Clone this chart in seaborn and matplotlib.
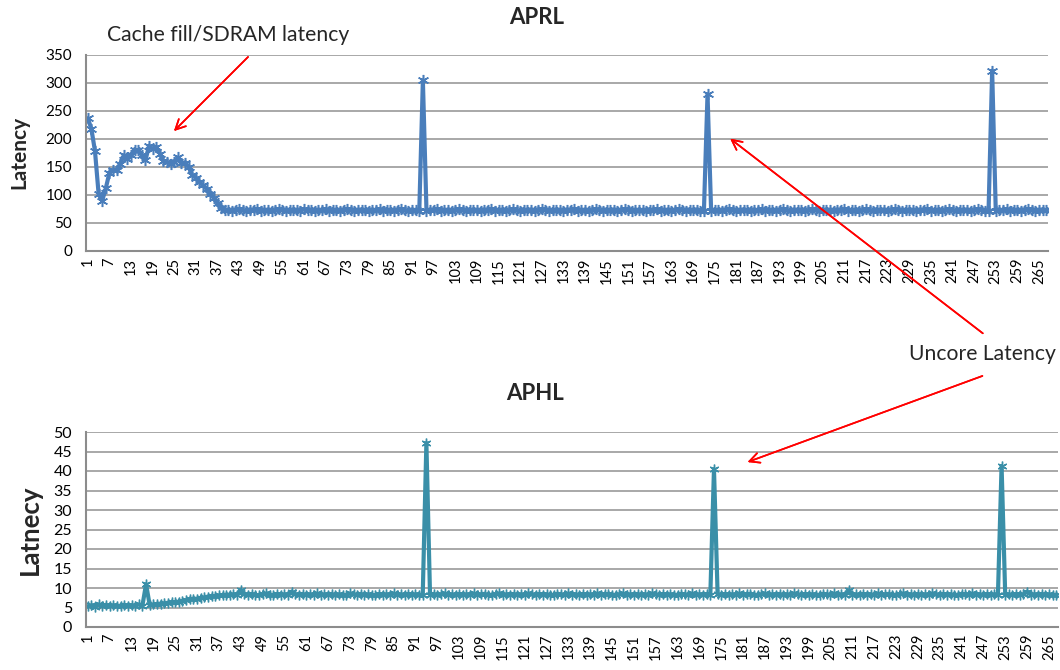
import matplotlib
matplotlib.use("Agg")
import matplotlib.pyplot as plt
import seaborn as sns
import numpy as np

sns.set_theme(style="white")
plt.rcParams["font.family"] = ["Lato", "DejaVu Sans"]

# APRL latency per sample (samples 1..267)
aprl_head = [237, 218, 178, 102, 90, 112, 140, 144, 145, 156, 171, 165, 171,
             180, 180, 171, 162, 188, 182, 186, 174, 160, 159, 156, 159, 167,
             157, 158, 150, 135, 131, 123, 117, 111, 102, 95, 85, 76, 73]
aprl_seg1 = [74, 72, 73, 75, 73, 72, 74, 73, 75, 72, 73, 74, 72, 73, 75, 74,
             72, 73, 74, 73, 72, 75, 73, 74, 72, 73, 74, 75, 72, 73, 74, 72,
             73, 75, 74, 72, 73, 74, 73, 72, 74, 73, 75, 72, 73, 74, 72, 73,
             75, 73, 72, 74, 73, 71]
aprl_spike1 = [305]
aprl_seg2 = [72, 74, 73, 75, 72, 73, 74, 72, 73, 75, 74, 72, 73, 74, 73, 72,
             74, 73, 75, 72, 73, 74, 72, 73, 75, 73, 72, 74, 73, 74, 72, 73,
             75, 74, 72, 73, 74, 73, 72, 74, 73, 75, 72, 73, 74, 72, 73, 75,
             73, 72, 74, 73, 74, 72, 73, 75, 74, 72, 73, 74, 73, 72, 74, 73,
             75, 72, 73, 74, 72, 73, 75, 73, 72, 74, 73, 74, 72, 71]
aprl_spike2 = [280]
aprl_seg3 = [72, 73, 74, 72, 73, 75, 74, 72, 73, 74, 73, 72, 74, 73, 75, 72,
             73, 74, 72, 73, 75, 73, 72, 74, 73, 74, 72, 73, 75, 74, 72, 73,
             74, 73, 72, 74, 73, 75, 72, 73, 74, 72, 73, 75, 73, 72, 74, 73,
             74, 72, 73, 75, 74, 72, 73, 74, 73, 72, 74, 73, 75, 72, 73, 74,
             72, 73, 75, 73, 72, 74, 73, 74, 72, 73, 75, 74, 72, 71]
aprl_spike3 = [322]
aprl_tail = [72, 74, 73, 75, 72, 73, 74, 72, 73, 75, 74, 72, 73, 74, 73]

# APHL latency per sample (samples 1..267)
aphl_head = [5.3, 5.6, 5.2, 5.8, 5.5, 5.7, 5.4, 5.6, 5.3, 5.5, 5.7, 5.4, 5.6,
             5.5, 5.8, 5.5]
aphl_bump1 = [11.0]
aphl_rise = [5.6, 5.8, 5.9, 6.0, 6.1, 6.2, 6.3, 6.4, 6.5, 6.7, 6.9, 7.1, 7.3,
             7.2, 7.5, 7.6, 7.8, 7.9, 8.0, 8.1, 8.2, 8.3, 8.3, 8.4, 8.3]
aphl_bump2 = [9.5]
aphl_seg1 = [8.4, 8.2, 8.5, 8.3, 8.1, 8.4, 8.6, 8.3, 8.2, 8.5, 8.3, 8.4, 8.2,
             9.1, 8.4, 8.3, 8.5, 8.2, 8.4, 8.3, 8.6, 8.2, 8.4, 8.3, 8.5, 8.1,
             8.4, 8.3, 8.2, 8.6, 8.4, 8.3, 8.5, 8.2, 8.4, 8.3, 8.1, 8.5, 8.3,
             8.4, 8.2, 8.6, 8.3, 8.4, 8.2, 8.5, 8.3, 8.4, 8.2, 8.3]
aphl_spike1 = [47.2]
aphl_seg2 = [8.3, 8.5, 8.2, 8.4, 8.6, 8.3, 8.4, 8.2, 8.5, 8.3, 8.4, 8.2, 8.6,
             8.3, 8.4, 8.5, 8.2, 8.3, 8.4, 8.6, 8.2, 8.4, 8.3, 8.5, 8.2, 8.4,
             8.3, 8.6, 8.4, 8.2, 8.5, 8.3, 8.4, 8.2, 8.3, 8.5, 8.4, 8.2, 8.6,
             8.3, 8.4, 8.2, 8.5, 8.3, 8.4, 8.2, 8.6, 8.3, 8.4, 8.5, 8.2, 8.3,
             8.4, 8.6, 8.2, 8.4, 8.3, 8.5, 8.2, 8.4, 8.3, 8.6, 8.4, 8.2, 8.5,
             8.3, 8.4, 8.2, 8.3, 8.5, 8.4, 8.2, 8.6, 8.3, 8.4, 8.2, 8.5, 8.3]
aphl_spike2 = [40.5]
aphl_seg3 = [8.4, 8.2, 8.5, 8.3, 8.4, 8.2, 8.6, 8.3, 8.4, 8.5, 8.2, 8.3, 8.4,
             8.6, 8.2, 8.4, 8.3, 8.5, 8.2, 8.4, 8.3, 8.6, 8.4, 8.2, 8.5, 8.3,
             8.4, 8.2, 8.3, 8.5, 8.4, 8.2, 8.6, 8.3, 8.4, 8.2, 9.4, 8.3, 8.4,
             8.2, 8.5, 8.3, 8.4, 8.2, 8.6, 8.3, 8.4, 8.5, 8.2, 8.3, 8.4, 8.6,
             8.2, 8.4, 8.3, 8.5, 8.2, 8.4, 8.3, 8.6, 8.4, 8.2, 8.5, 8.3, 8.4,
             8.2, 8.3, 8.5, 8.4, 8.2, 8.6, 8.3, 8.4, 8.2, 8.5, 8.3, 8.4, 8.2]
aphl_spike3 = [41.3]
aphl_tail = [8.3, 8.4, 8.2, 8.5, 8.3, 8.4, 9.1, 8.3, 8.4, 8.2, 8.5, 8.3, 8.4,
             8.2, 8.3]

aprl = (aprl_head + aprl_seg1 + aprl_spike1 + aprl_seg2 + aprl_spike2
        + aprl_seg3 + aprl_spike3 + aprl_tail)
aphl = (aphl_head + aphl_bump1 + aphl_rise + aphl_bump2 + aphl_seg1
        + aphl_spike1 + aphl_seg2 + aphl_spike2 + aphl_seg3 + aphl_spike3
        + aphl_tail)

samples = list(range(1, len(aprl) + 1))
tick_samples = samples[::6]

W, H = 1060, 670
fig = plt.figure(figsize=(W / 100, H / 100), dpi=100)
fig.patch.set_facecolor("white")

ax1 = fig.add_axes([86 / W, 1 - 251 / H, 962 / W, 196 / H])
ax2 = fig.add_axes([86 / W, 1 - 627 / H, 972 / W, 195 / H])

star = (6, 2, 0)


def style_axis(ax, ymax, ystep, ytick_size, xtick_size):
    pos = np.arange(len(samples))
    ax.set_xlim(-0.5, len(samples) - 0.5)
    ax.set_ylim(0, ymax)
    ax.set_yticks(np.arange(0, ymax + ystep / 2, ystep))
    ax.set_xticks(pos[::6])
    ax.set_xticklabels([str(s) for s in tick_samples], rotation=90)
    ax.tick_params(axis="y", length=0, labelsize=ytick_size, colors="black",
                   pad=10)
    ax.tick_params(axis="x", length=0, labelsize=xtick_size, colors="black",
                   pad=5)
    ax.grid(axis="y", color="#9a9a9a", linewidth=1.2)
    ax.set_axisbelow(True)
    for side in ("top", "right"):
        ax.spines[side].set_visible(False)
    for side in ("left", "bottom"):
        ax.spines[side].set_color("#8c8c8c")
        ax.spines[side].set_linewidth(1.5)
    ax.set_xlabel("")
    ax.set_ylabel("")


pos1 = np.arange(len(aprl))
pos2 = np.arange(len(aphl))
sns.lineplot(x=pos1, y=aprl, ax=ax1, color="#4a7ebb", linewidth=3.0,
             marker=star, markersize=8, markeredgewidth=1.1,
             markeredgecolor="#4a7ebb")
sns.lineplot(x=pos2, y=aphl, ax=ax2, color="#3a8fa8", linewidth=3.0,
             marker=star, markersize=7, markeredgewidth=1.0,
             markeredgecolor="#3a8fa8")

style_axis(ax1, 350, 50, 11, 10.5)
style_axis(ax2, 50, 5, 11.5, 10.5)

# Titles and axis labels at fixed figure positions
fig.text(537 / W, 1 - 17 / H, "APRL", fontsize=16, fontweight="bold",
         ha="center", va="center")
fig.text(535 / W, 1 - 393 / H, "APHL", fontsize=16, fontweight="bold",
         ha="center", va="center")
fig.text(19 / W, 1 - 152 / H, "Latency", fontsize=15, fontweight="bold",
         rotation=90, ha="center", va="center")
fig.text(30 / W, 1 - 530 / H, "Latnecy", fontsize=18.5, fontweight="bold",
         rotation=90, ha="center", va="center")

# Annotations with red arrows (figure pixel coordinates)
fig.text(228 / W, 1 - 35 / H, "Cache fill/SDRAM latency", fontsize=15.2,
         ha="center", va="center")
fig.text(982 / W, 1 - 354 / H, "Uncore Latency", fontsize=15.2,
         ha="center", va="center")
arrow = dict(arrowstyle="->", color="red", lw=1.2, mutation_scale=18)
for tail, head in [((250, 55), (172, 133)),
                   ((985, 335), (728, 137)),
                   ((985, 375), (745, 463))]:
    fig.add_artist(plt.annotate(
        "", xy=(head[0], H - head[1]), xycoords="figure pixels",
        xytext=(tail[0], H - tail[1]), textcoords="figure pixels",
        arrowprops=arrow))

fig.savefig("out.png", dpi=100)
